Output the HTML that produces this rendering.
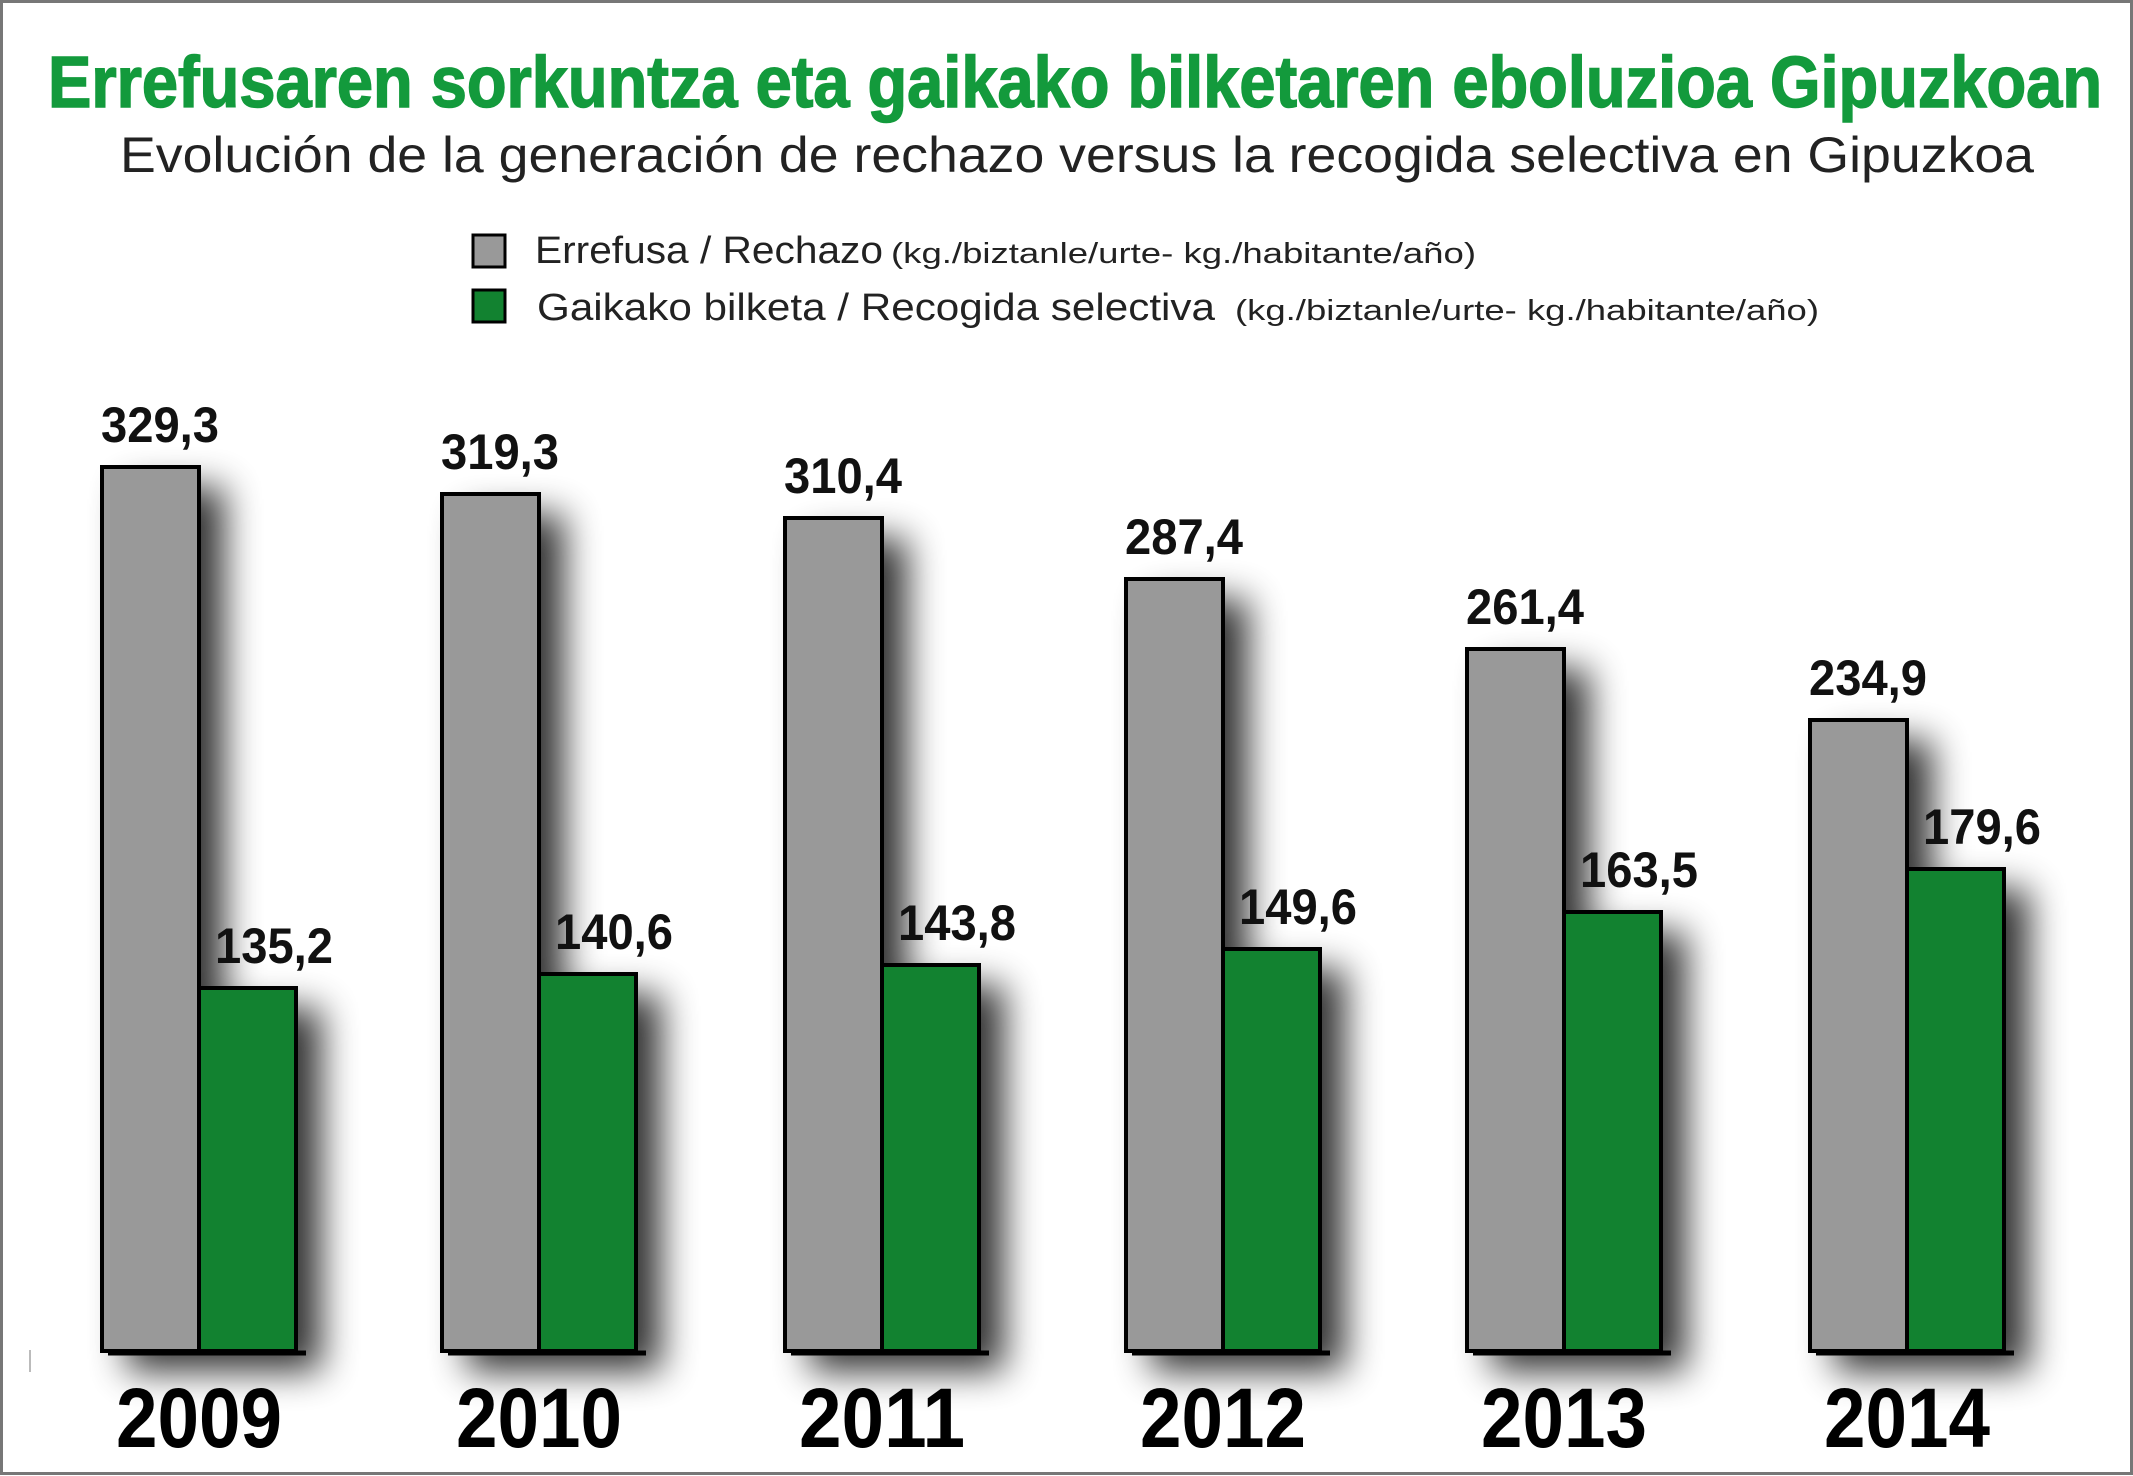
<!DOCTYPE html>
<html><head><meta charset="utf-8"><style>html,body{margin:0;padding:0;background:#fff}svg{display:block}</style></head>
<body>
<svg width="2133" height="1476" viewBox="0 0 2133 1476" xmlns="http://www.w3.org/2000/svg" font-family="Liberation Sans, sans-serif">
<defs>
<filter id="sh" x="-50%" y="-20%" width="200%" height="150%"><feGaussianBlur stdDeviation="18"/></filter>
</defs>
<rect x="0" y="0" width="2133" height="1476" fill="#fff"/>
<rect x="1.5" y="1.5" width="2130" height="1472" fill="none" stroke="#777" stroke-width="3"/>
<text x="1075" y="107" text-anchor="middle" font-size="72" font-weight="bold" fill="#139a3c" stroke="#139a3c" stroke-width="1.5" textLength="2054" lengthAdjust="spacingAndGlyphs">Errefusaren sorkuntza eta gaikako bilketaren eboluzioa Gipuzkoan</text>
<text x="1077" y="172" text-anchor="middle" font-size="50" fill="#222" textLength="1914" lengthAdjust="spacingAndGlyphs">Evolución de la generación de rechazo versus la recogida selectiva en Gipuzkoa</text>
<rect x="473" y="235" width="32" height="32" fill="#999" stroke="#000" stroke-width="3"/>
<text x="535" y="263" font-size="38" fill="#222" textLength="348" lengthAdjust="spacingAndGlyphs">Errefusa / Rechazo</text>
<text x="891" y="263" font-size="29" fill="#222" textLength="585" lengthAdjust="spacingAndGlyphs">(kg./biztanle/urte- kg./habitante/año)</text>
<rect x="473" y="290" width="32" height="32" fill="#128230" stroke="#000" stroke-width="3"/>
<text x="537" y="320" font-size="38" fill="#222" textLength="678" lengthAdjust="spacingAndGlyphs">Gaikako bilketa / Recogida selectiva</text>
<text x="1235" y="320" font-size="29" fill="#222" textLength="584" lengthAdjust="spacingAndGlyphs">(kg./biztanle/urte- kg./habitante/año)</text>
<line x1="30" y1="1350" x2="30" y2="1372" stroke="#bbb" stroke-width="2"/>

<g fill="#000" opacity="0.8" filter="url(#sh)">
<rect x="127" y="487" width="97" height="884"/><rect x="224" y="1008" width="97" height="363"/>
<rect x="467" y="514" width="97" height="857"/><rect x="564" y="994" width="97" height="377"/>
<rect x="810" y="538" width="97" height="833"/><rect x="907" y="985" width="97" height="386"/>
<rect x="1151" y="599" width="97" height="772"/><rect x="1248" y="969" width="97" height="402"/>
<rect x="1492" y="669" width="97" height="702"/><rect x="1589" y="932" width="97" height="439"/>
<rect x="1835" y="740" width="97" height="631"/><rect x="1932" y="889" width="97" height="482"/>
</g>

<g stroke="#000" stroke-width="4">
<rect x="102" y="467" width="97" height="884" fill="#999"/>
<rect x="199" y="988" width="97" height="363" fill="#128230"/>
<rect x="442" y="494" width="97" height="857" fill="#999"/>
<rect x="539" y="974" width="97" height="377" fill="#128230"/>
<rect x="785" y="518" width="97" height="833" fill="#999"/>
<rect x="882" y="965" width="97" height="386" fill="#128230"/>
<rect x="1126" y="579" width="97" height="772" fill="#999"/>
<rect x="1223" y="949" width="97" height="402" fill="#128230"/>
<rect x="1467" y="649" width="97" height="702" fill="#999"/>
<rect x="1564" y="912" width="97" height="439" fill="#128230"/>
<rect x="1810" y="720" width="97" height="631" fill="#999"/>
<rect x="1907" y="869" width="97" height="482" fill="#128230"/>
</g>
<g stroke="#000" stroke-width="5">
<line x1="108" y1="1353" x2="306" y2="1353"/>
<line x1="448" y1="1353" x2="646" y2="1353"/>
<line x1="791" y1="1353" x2="989" y2="1353"/>
<line x1="1132" y1="1353" x2="1330" y2="1353"/>
<line x1="1473" y1="1353" x2="1671" y2="1353"/>
<line x1="1816" y1="1353" x2="2014" y2="1353"/>
</g>

<g font-size="50" font-weight="bold" fill="#111" text-anchor="middle">
<text x="160" y="442" textLength="118" lengthAdjust="spacingAndGlyphs">329,3</text>
<text x="274" y="963" textLength="118" lengthAdjust="spacingAndGlyphs">135,2</text>
<text x="500" y="469" textLength="118" lengthAdjust="spacingAndGlyphs">319,3</text>
<text x="614" y="949" textLength="118" lengthAdjust="spacingAndGlyphs">140,6</text>
<text x="843" y="493" textLength="118" lengthAdjust="spacingAndGlyphs">310,4</text>
<text x="957" y="940" textLength="118" lengthAdjust="spacingAndGlyphs">143,8</text>
<text x="1184" y="554" textLength="118" lengthAdjust="spacingAndGlyphs">287,4</text>
<text x="1298" y="924" textLength="118" lengthAdjust="spacingAndGlyphs">149,6</text>
<text x="1525" y="624" textLength="118" lengthAdjust="spacingAndGlyphs">261,4</text>
<text x="1639" y="887" textLength="118" lengthAdjust="spacingAndGlyphs">163,5</text>
<text x="1868" y="695" textLength="118" lengthAdjust="spacingAndGlyphs">234,9</text>
<text x="1982" y="844" textLength="118" lengthAdjust="spacingAndGlyphs">179,6</text>
</g>
<g font-size="84" font-weight="bold" fill="#000" text-anchor="middle">
<text x="199" y="1447" textLength="166" lengthAdjust="spacingAndGlyphs">2009</text>
<text x="539" y="1447" textLength="166" lengthAdjust="spacingAndGlyphs">2010</text>
<text x="882" y="1447" textLength="166" lengthAdjust="spacingAndGlyphs">2011</text>
<text x="1223" y="1447" textLength="166" lengthAdjust="spacingAndGlyphs">2012</text>
<text x="1564" y="1447" textLength="166" lengthAdjust="spacingAndGlyphs">2013</text>
<text x="1907" y="1447" textLength="166" lengthAdjust="spacingAndGlyphs">2014</text>
</g>
</svg>
</body></html>
